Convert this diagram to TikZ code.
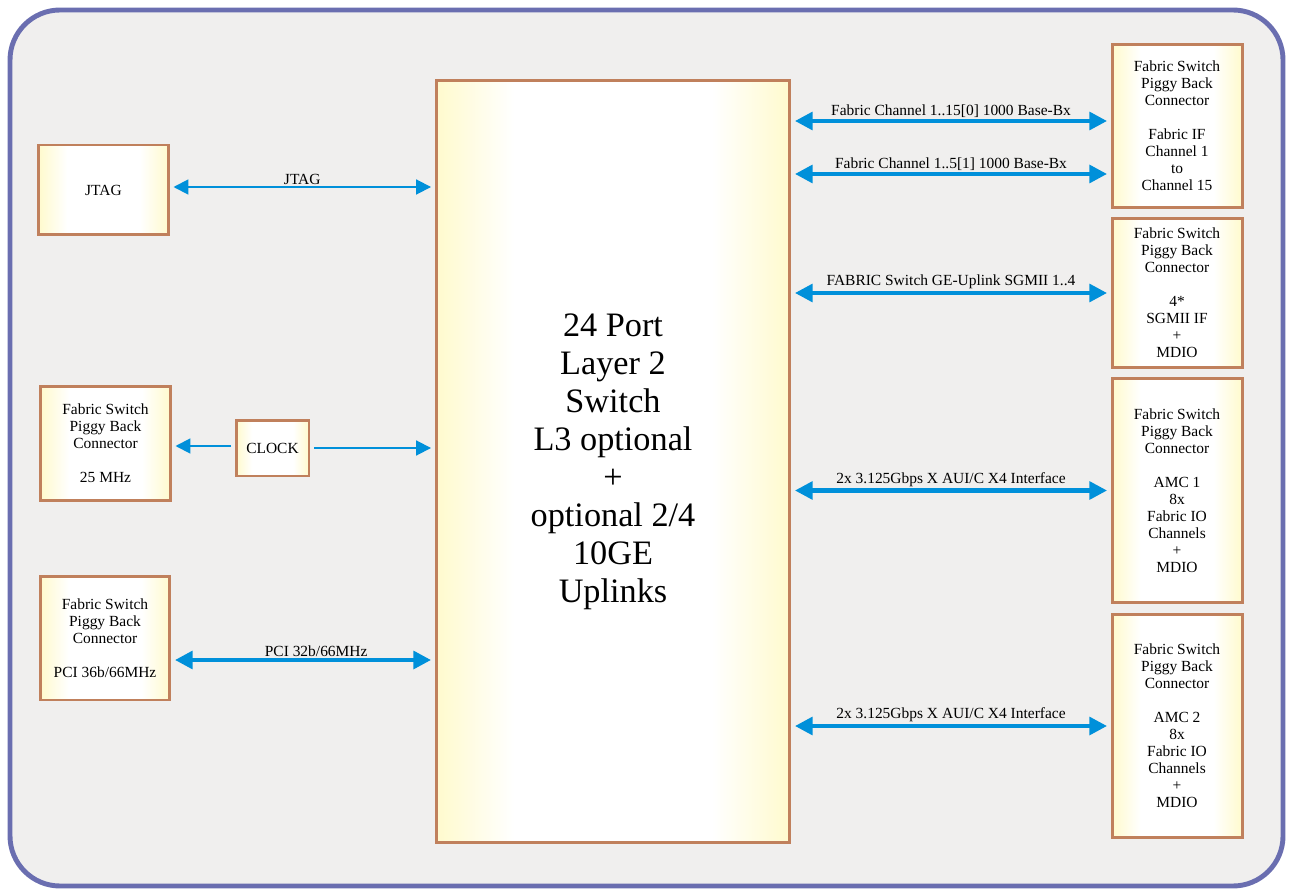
\documentclass[tikz,border=0pt]{standalone}
\usepackage{fontspec}
\setmainfont{Liberation Serif}
\usetikzlibrary{arrows.meta,positioning,calc}
\definecolor{framecol}{RGB}{106,110,176}
\definecolor{panel}{RGB}{240,239,238}
\definecolor{edge}{RGB}{192,128,92}
\definecolor{pale}{RGB}{255,250,205}
\definecolor{link}{RGB}{0,144,218}
\pgfdeclarehorizontalshading{cream}{100bp}{color(0bp)=(pale); color(25bp)=(pale); color(36bp)=(white); color(64bp)=(white); color(75bp)=(pale); color(100bp)=(pale)}

\begin{document}
\begin{tikzpicture}[
  x=0.02cm, y=-0.02cm,
  block/.style={draw=edge, line width=1.7pt, shading=cream, align=center, inner sep=0pt, font=\fontsize{8.8}{9.7}\selectfont},
  core/.style={block, minimum width=7.08cm, minimum height=15.26cm, font=\fontsize{19.5}{21.6}\selectfont},
  conn/.style={block, minimum width=2.6cm},
  wire/.style={>={Triangle[length=8.5pt,width=8.5pt]}, line width=1.1pt, draw=link, shorten >=2pt, shorten <=2pt},
  bus/.style={wire, <->, >={Triangle[length=10pt,width=10pt]}, line width=2.3pt},
  lbl/.style={font=\fontsize{8.8}{9.7}\selectfont, inner sep=0pt, text=black}
]

\useasboundingbox (0,0) rectangle (1293,891);
\draw[framecol, line width=2.8pt, fill=panel, rounded corners=1cm] (10,10) rectangle (1283,886);

\node[core] (sw) at (613,461.5) {24 Port\\Layer 2\\Switch\\L3 optional\\+\\optional 2/4\\10GE\\Uplinks};

\node[conn, minimum height=1.8cm] (jtag) at (103.5,190) {JTAG};
\node[conn, minimum height=2.3cm] (osc) at (105.5,443.5) {Fabric Switch\\Piggy Back\\Connector\\[9.7pt]25 MHz};
\node[block, minimum width=1.46cm, minimum height=1.12cm] (clock) at (272.5,448) {CLOCK};
\node[conn, minimum height=2.48cm] (pci) at (105,638) {Fabric Switch\\Piggy Back\\Connector\\[9.7pt]PCI 36b/66MHz};

\node[conn, minimum height=3.28cm] (fab) at (1177,126) {Fabric Switch\\Piggy Back\\Connector\\[9.7pt]Fabric IF\\Channel 1\\to\\Channel 15};
\node[conn, minimum height=3.0cm] (sgmii) at (1177,293) {Fabric Switch\\Piggy Back\\Connector\\[9.7pt]4*\\SGMII IF\\+\\MDIO};
\node[conn, minimum height=4.5cm] (amc1) at (1177,490.5) {Fabric Switch\\Piggy Back\\Connector\\[9.7pt]AMC 1\\8x\\Fabric IO\\Channels\\+\\MDIO};
\node[conn, minimum height=4.48cm] (amc2) at (1177,726) {Fabric Switch\\Piggy Back\\Connector\\[9.7pt]AMC 2\\8x\\Fabric IO\\Channels\\+\\MDIO};

\draw[wire, <->] ([yshift=0.06cm]jtag.east) -- ([yshift=0.06cm]jtag.east -| sw.west) node[lbl, midway, above=1pt] (jtaglbl) {JTAG};
\draw[wire, ->] ([yshift=0.04cm]clock.west) -- ([yshift=0.04cm]clock.west -| osc.east);
\draw[wire, ->] (clock.east) -- (clock.east -| sw.west);
\draw[bus] ([yshift=-0.44cm]pci.east) -- ([yshift=-0.44cm]pci.east -| sw.west) node[lbl, pos=0.55, above=1pt] (pcilbl) {PCI 32b/66MHz};

\draw[bus] ([yshift=0.1cm]fab.west -| sw.east) -- ([yshift=0.1cm]fab.west) node[lbl, midway, above=1pt] (fab0lbl) {Fabric Channel 1..15[0] 1000 Base-Bx};
\draw[bus] ([yshift=-0.96cm]fab.west -| sw.east) -- ([yshift=-0.96cm]fab.west) node[lbl, midway, above=1pt] (fab1lbl) {Fabric Channel 1..5[1] 1000 Base-Bx};
\draw[bus] (sgmii.west -| sw.east) -- (sgmii.west) node[lbl, midway, above=1pt] (sgmiilbl) {FABRIC Switch GE-Uplink SGMII 1..4};
\draw[bus] (amc1.west -| sw.east) -- (amc1.west) node[lbl, midway, above=1pt] (amc1lbl) {2x 3.125Gbps X AUI/C X4 Interface};
\draw[bus] (amc2.west -| sw.east) -- (amc2.west) node[lbl, midway, above=1pt] (amc2lbl) {2x 3.125Gbps X AUI/C X4 Interface};

\end{tikzpicture}
\end{document}
